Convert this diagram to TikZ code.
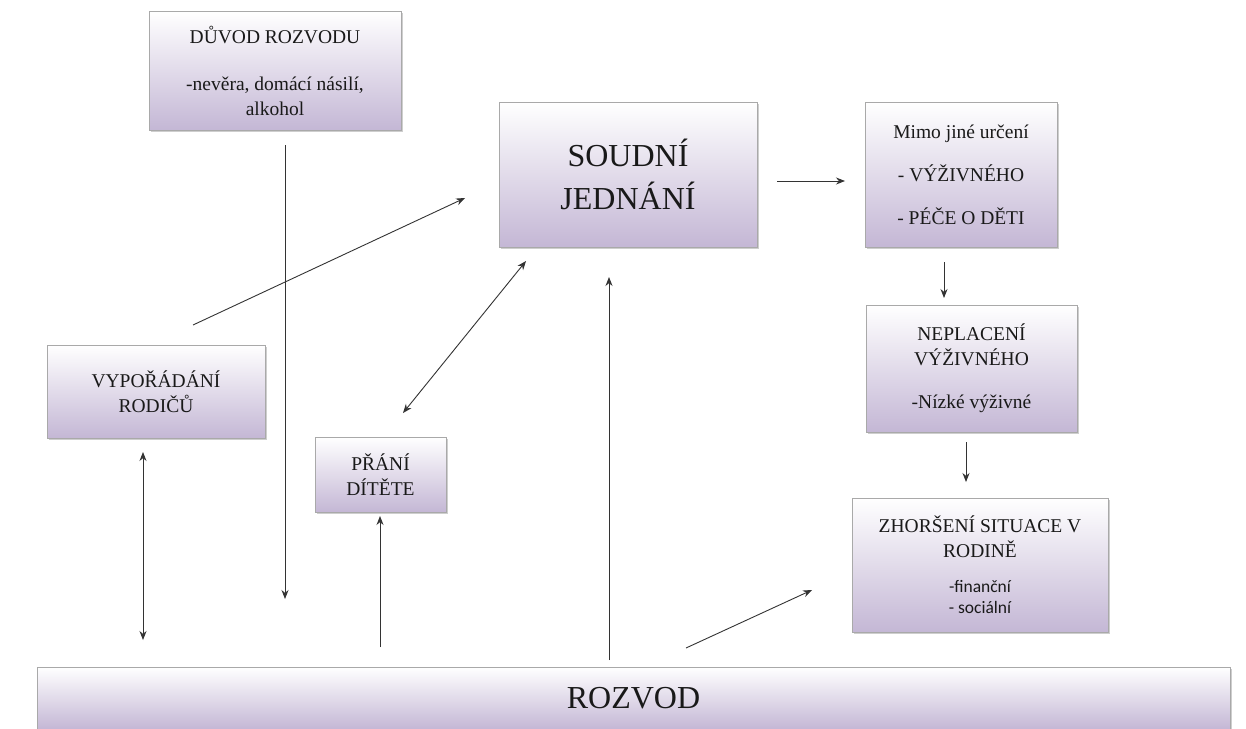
\documentclass[tikz,border=0pt]{standalone}
\usepackage{fontspec}
\setmainfont{LiberationSerif}[Extension=.ttf, UprightFont=*-Regular, BoldFont=*-Bold, ItalicFont=*-Italic, BoldItalicFont=*-BoldItalic]
\newfontfamily\carl{Carlito}
\usetikzlibrary{arrows.meta,shadows}
\definecolor{boxpurple}{HTML}{C4B7D5}
\definecolor{boxedge}{HTML}{A9A9A9}
\definecolor{linecol}{HTML}{333333}
\tikzset{
  box/.style={draw=boxedge, line width=0.8pt, top color=white, bottom color=boxpurple,
    align=center, inner sep=0pt, text=black!90,
    drop shadow={shadow xshift=1.5pt, shadow yshift=-2pt, opacity=0.35, fill=black!55}},
  small/.style={font=\rmfamily\fontsize{19.5}{25}\selectfont},
  big/.style={font=\rmfamily\fontsize{32}{43}\selectfont},
  arr/.style={draw=linecol, line width=0.9pt, -{Stealth[length=9pt,width=7pt]}},
  darr/.style={draw=linecol, line width=0.9pt, {Stealth[length=9pt,width=7pt]}-{Stealth[length=9pt,width=7pt]}}
}
\begin{document}
\begin{tikzpicture}[x=1pt,y=-1pt]
\useasboundingbox (0,0) rectangle (1246,728);
\fill[white] (0,0) rectangle (1246,728);

% boxes
\node[box, small, minimum width=252pt, minimum height=119pt] (duvod) at (275,70.5)
  {DŮVOD ROZVODU\\[22pt]-nevěra, domácí násilí,\\alkohol};
\node[box, big, minimum width=258pt, minimum height=145pt] (soud) at (628,174.5)
  {SOUDNÍ\\JEDNÁNÍ};
\node[box, small, minimum width=192pt, minimum height=145pt] (mimo) at (961,174.5)
  {Mimo jiné určení\\[18pt]- VÝŽIVNÉHO\\[18pt]- PÉČE O DĚTI};
\node[box, small, minimum width=211pt, minimum height=127pt] (nepl) at (971.5,368.5)
  {NEPLACENÍ\\VÝŽIVNÉHO\\[18pt]-Nízké výživné};
\node[box, small, minimum width=256pt, minimum height=134pt] (zhor) at (980,565)
  {ZHORŠENÍ SITUACE V\\RODINĚ\\[10pt]{\carl\fontsize{17.5}{20}\selectfont -finanční}\\[-4pt]{\carl\fontsize{17.5}{20}\selectfont - sociální}};
\node[box, small, minimum width=218pt, minimum height=93pt] (vypo) at (156,391.5)
  {VYPOŘÁDÁNÍ\\RODIČŮ};
\node[box, small, minimum width=131pt, minimum height=75pt] (prani) at (380.5,474.5)
  {PŘÁNÍ\\DÍTĚTE};
\node[box, big, minimum width=1193pt, minimum height=62pt] (rozvod) at (633.5,698)
  {ROZVOD};

% connector end points
\coordinate (a1s) at (193,325);  \coordinate (a1e) at (465,198);
\coordinate (a2s) at (285,145);  \coordinate (a2e) at (285,599);
\coordinate (a3s) at (403,413);  \coordinate (a3e) at (526,261);
\coordinate (a4s) at (143,452);  \coordinate (a4e) at (143,640);
\coordinate (a5s) at (380,647);  \coordinate (a5e) at (380,516);
\coordinate (a6s) at (609,660);  \coordinate (a6e) at (609,277);
\coordinate (a7s) at (686,648);  \coordinate (a7e) at (812,590);
\coordinate (a8s) at (777,181);  \coordinate (a8e) at (845,181);
\coordinate (a9s) at (944,262);  \coordinate (a9e) at (944,298);
\coordinate (a10s) at (966,442); \coordinate (a10e) at (966,482);

% connectors
\draw[arr] (a1s) -- (a1e);
\draw[arr] (a2s) -- (a2e);
\draw[darr] (a3s) -- (a3e);
\draw[darr] (a4s) -- (a4e);
\draw[arr] (a5s) -- (a5e);
\draw[arr] (a6s) -- (a6e);
\draw[arr] (a7s) -- (a7e);
\draw[arr] (a8s) -- (a8e);
\draw[arr] (a9s) -- (a9e);
\draw[arr] (a10s) -- (a10e);
\end{tikzpicture}
\end{document}
